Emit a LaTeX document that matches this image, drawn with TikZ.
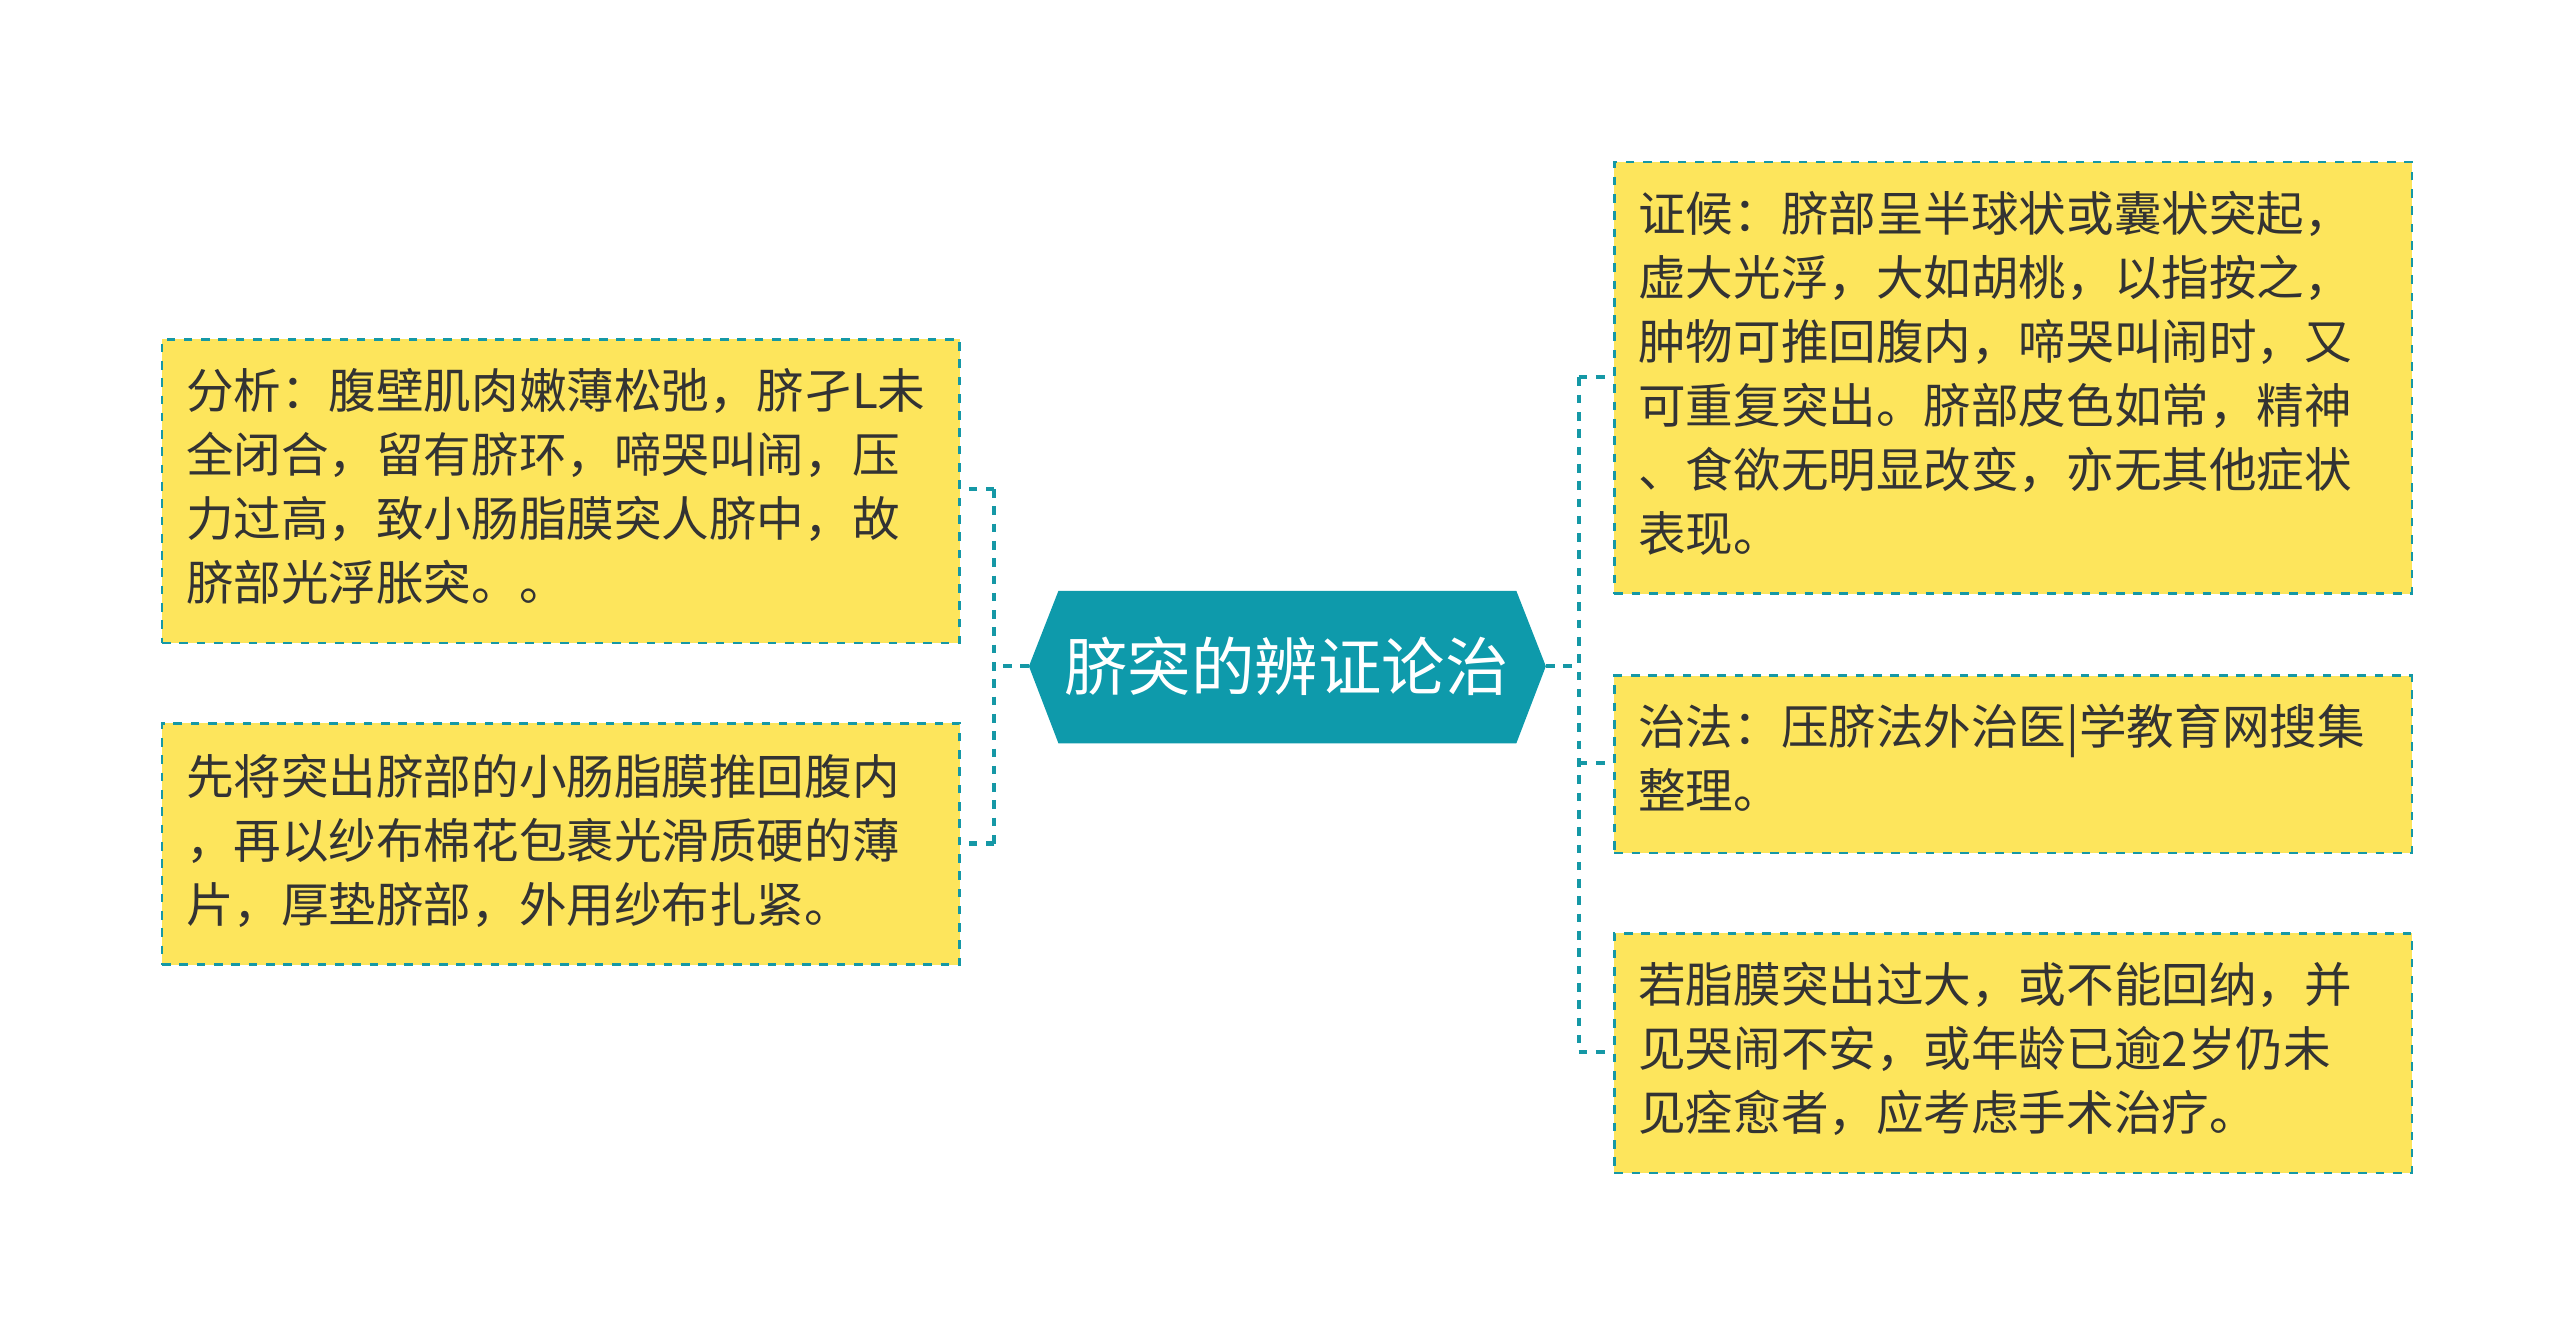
\documentclass[tikz,border=0pt]{standalone}
\usepackage{fontspec}
\setmainfont{Noto Sans CJK SC}
\begin{document}
\begin{tikzpicture}[x=0.02cm,y=-0.02cm,
  conn/.style={draw=tealc,dashed,line width=1.4pt}]
\definecolor{yellowbox}{HTML}{FDE55C}
\definecolor{tealc}{HTML}{1598A6}
\definecolor{hexc}{HTML}{0E9AAB}
\useasboundingbox (0,0) rectangle (1560,809);
\tikzset{box/.style={draw=tealc,dashed,line width=0.9pt,fill=yellowbox}}
\node[box,minimum width=486*0.02cm,minimum height=185*0.02cm,anchor=north west] (l1) at (98,206) {};
\node[box,minimum width=486*0.02cm,minimum height=147*0.02cm,anchor=north west] (l2) at (98,440) {};
\node[box,minimum width=486*0.02cm,minimum height=263*0.02cm,anchor=north west] (r1) at (983,98) {};
\node[box,minimum width=486*0.02cm,minimum height=108*0.02cm,anchor=north west] (r2) at (983,411) {};
\node[box,minimum width=486*0.02cm,minimum height=146*0.02cm,anchor=north west] (r3) at (983,568) {};
\tikzset{txt/.style={anchor=north west,align=left,inner sep=0pt,font=\fontsize{16.5}{22.2}\selectfont,text=black!80}}
\node[txt] (t1) at (113,224) {分析：腹壁肌肉嫩薄松弛，脐孑L未\\全闭合，留有脐环，啼哭叫闹，压\\力过高，致小肠脂膜突人脐中，故\\脐部光浮胀突。。};
\node[txt] (t2) at (113,459) {先将突出脐部的小肠脂膜推回腹内\\，再以纱布棉花包裹光滑质硬的薄\\片，厚垫脐部，外用纱布扎紧。};
\node[txt] (t3) at (998,116) {证候：脐部呈半球状或囊状突起，\\虚大光浮，大如胡桃，以指按之，\\肿物可推回腹内，啼哭叫闹时，又\\可重复突出。脐部皮色如常，精神\\、食欲无明显改变，亦无其他症状\\表现。};
\node[txt] (t4) at (998,429) {治法：压脐法外治医|学教育网搜集\\整理。};
\node[txt] (t5) at (998,586) {若脂膜突出过大，或不能回纳，并\\见哭闹不安，或年龄已逾2岁仍未\\见痊愈者，应考虑手术治疗。};
\fill[hexc] (627,406) -- (645,360) -- (924,360) -- (942,406) -- (924,453) -- (645,453) -- cycle;
\node[text=white,font=\fontsize{22}{26}\selectfont] (c) at (784,406) {脐突的辨证论治};
\coordinate (cl) at (627,406);
\coordinate (cr) at (942,406);
\draw[conn] (cl) -- (606,406);
\draw[conn] (606,298) -- (606,514);
\draw[conn] (606,298) -- (l1.east|-606,298);
\draw[conn] (606,514) -- (l2.east|-606,514);
\draw[conn] (cr) -- (962,406);
\draw[conn] (962,230) -- (962,641);
\draw[conn] (962,230) -- (r1.west|-962,230);
\draw[conn] (962,465) -- (r2.west|-962,465);
\draw[conn] (962,641) -- (r3.west|-962,641);
\end{tikzpicture}
\end{document}
